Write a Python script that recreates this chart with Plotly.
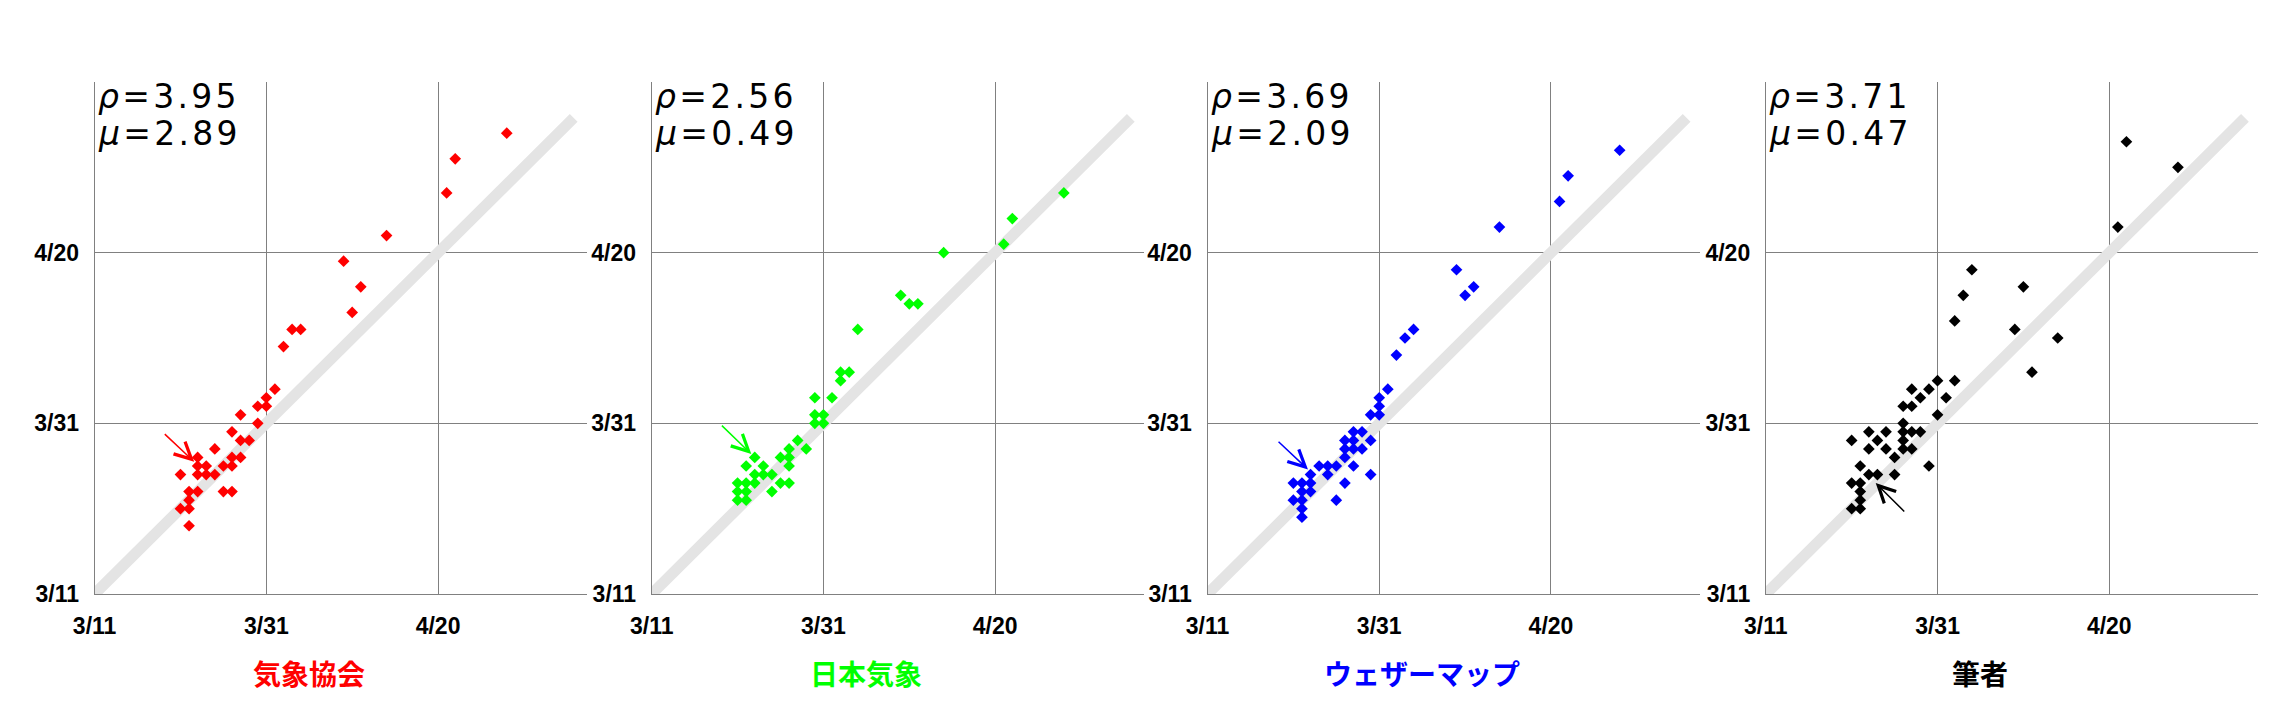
import plotly.graph_objects as go

# ---------------- data ----------------
tick_vals = [0, 20, 40]
tick_text = ["3/11", "3/31", "4/20"]

names = ["気象協会", "日本気象", "ウェザーマップ", "筆者"]
colors = ["#ff0000", "#00ff00", "#0000ff", "#000000"]
rho_vals = ["3.95", "2.56", "3.69", "3.71"]
mu_vals = ["2.89", "0.49", "2.09", "0.47"]

# days since 3/11 (x: one date, y: the other)
kyokai_x = [48, 42, 41, 34, 29, 31, 30, 23, 24, 22, 21, 20, 19, 20, 17, 19, 16, 14, 17, 18,
            16, 17, 12, 12, 13, 15, 16, 10, 12, 13, 14, 11, 12, 15, 16, 11, 10, 11, 11]
kyokai_y = [54, 51, 47, 42, 39, 36, 33, 31, 31, 29, 24, 23, 22, 22, 21, 20, 19, 17, 18, 18,
            16, 16, 16, 15, 15, 15, 15, 14, 14, 14, 14, 12, 12, 12, 12, 11, 10, 10, 8]

nihon_x = [48, 42, 41, 34, 29, 30, 31, 24, 22, 23, 22, 19, 21, 19, 20, 19, 20, 17, 18, 16,
           15, 16, 16, 12, 11, 13, 12, 13, 14, 15, 16, 12, 10, 11, 10, 11, 14, 10, 11]
nihon_y = [47, 44, 41, 40, 35, 34, 34, 31, 26, 26, 25, 23, 23, 21, 21, 20, 20, 18, 17, 17,
           16, 16, 15, 16, 15, 15, 14, 14, 14, 13, 13, 13, 13, 13, 12, 12, 12, 11, 11]

weather_x = [48, 42, 41, 34, 29, 31, 30, 24, 23, 22, 21, 20, 20, 19, 20, 18, 17, 19, 16, 17,
             16, 17, 18, 16, 17, 19, 13, 14, 15, 14, 12, 16, 10, 11, 12, 11, 12, 10, 11, 15,
             11, 11]
weather_y = [52, 49, 46, 43, 38, 36, 35, 31, 30, 28, 24, 23, 22, 21, 21, 19, 19, 18, 18, 18,
             17, 17, 17, 16, 15, 14, 15, 15, 15, 14, 14, 13, 13, 13, 13, 12, 12, 11, 11, 11,
             10, 9]

author_x = [42, 48, 41, 24, 30, 23, 22, 29, 34, 31, 20, 22, 17, 19, 18, 21, 16, 17, 20, 16,
            12, 14, 16, 17, 18, 10, 13, 16, 12, 14, 16, 17, 15, 11, 19, 12, 13, 15, 10, 11,
            11, 11, 10, 11]
author_y = [53, 50, 43, 38, 36, 35, 32, 31, 30, 26, 25, 25, 24, 24, 23, 23, 22, 22, 21, 20,
            19, 19, 19, 19, 19, 18, 18, 18, 17, 17, 17, 17, 16, 15, 15, 14, 14, 14, 13, 13,
            12, 11, 10, 10]

series_x = [kyokai_x, nihon_x, weather_x, author_x]
series_y = [kyokai_y, nihon_y, weather_y, author_y]

diag = [0, 55.8]
# arrow (tail, tip) in days
arrows = [((8.0, 18.9), (11.6, 15.5)),
          ((8.0, 19.9), (11.6, 16.4)),
          ((8.1, 18.0), (11.7, 14.6)),
          ((16.3, 9.5), (12.8, 13.0))]

# ---------------- layout ----------------
# figure sits 8px inside the page (body margin)
OFF = 8
W, H = 2280, 700
x_left = [94.6 - OFF, 651.7 - OFF, 1207.5 - OFF, 1765.8 - OFF]
pw = 492
top_px, bot_px = 82 - OFF, 594 - OFF
ydom = [(H - bot_px) / H, (H - top_px) / H]

fig = go.Figure()
annotations = []
layout = {}
tickfont = dict(family="Liberation Sans, Arial", size=23, color="#000000", weight="bold")
HS = "\u200a"


def spaced(s):
    return HS.join(list(s))


for i in range(4):
    sfx = "" if i == 0 else str(i + 1)
    xa, ya = "x" + sfx, "y" + sfx
    fig.add_trace(go.Scatter(x=diag, y=diag, mode="lines",
                             line=dict(color="#e4e4e4", width=11),
                             xaxis=xa, yaxis=ya, hoverinfo="skip"))
    fig.add_trace(go.Scatter(x=series_x[i], y=series_y[i], mode="markers",
                             marker=dict(symbol="diamond", size=9, color=colors[i],
                                         line=dict(width=0)),
                             xaxis=xa, yaxis=ya, cliponaxis=False))
    common = dict(tickvals=tick_vals, ticktext=tick_text, showgrid=True,
                  gridcolor="#808080", gridwidth=1, showline=True, linecolor="#808080",
                  linewidth=1, zeroline=False, ticks="", tickfont=tickfont,
                  fixedrange=True, automargin=False)
    layout["xaxis" + sfx] = dict(domain=[x_left[i] / W, (x_left[i] + pw) / W],
                                 range=[0, 57.3], anchor=ya, ticklabelstandoff=11, **common)
    layout["yaxis" + sfx] = dict(domain=ydom, range=[0, 60], anchor=xa,
                                 ticklabelstandoff=10, **common)

    (tx, ty), (hx, hy) = arrows[i]
    annotations.append(dict(x=hx, y=hy, xref=xa, yref=ya, ax=tx, ay=ty, axref=xa, ayref=ya,
                            text="", showarrow=True, arrowhead=5, arrowsize=2.2,
                            arrowwidth=1.5, arrowcolor=colors[i], standoff=0))
    statfont = dict(family="DejaVu Sans", size=33, color="#000000")
    annotations.append(dict(x=0, y=1, xref=xa + " domain", yref=ya + " domain",
                            text="<i>ρ</i>" + HS + "=" + HS + spaced(rho_vals[i]),
                            showarrow=False, xanchor="left", yanchor="middle",
                            xshift=1, yshift=-14, font=statfont))
    annotations.append(dict(x=0, y=1, xref=xa + " domain", yref=ya + " domain",
                            text="<i>μ</i>" + HS + "=" + HS + spaced(mu_vals[i]),
                            showarrow=False, xanchor="left", yanchor="middle",
                            xshift=1, yshift=-51, font=statfont))
    annotations.append(dict(x=25, y=(H - (673 - OFF)) / H, xref=xa, yref="paper",
                            text=names[i], showarrow=False, xanchor="center",
                            yanchor="middle",
                            font=dict(family="Noto Sans CJK JP", size=28, color=colors[i],
                                      weight="bold")))

fig.update_layout(width=W, height=H, margin=dict(l=0, r=0, t=0, b=0, autoexpand=False),
                  paper_bgcolor="#ffffff", plot_bgcolor="#ffffff", showlegend=False,
                  annotations=annotations, **layout)

fig.write_html("out.html")
